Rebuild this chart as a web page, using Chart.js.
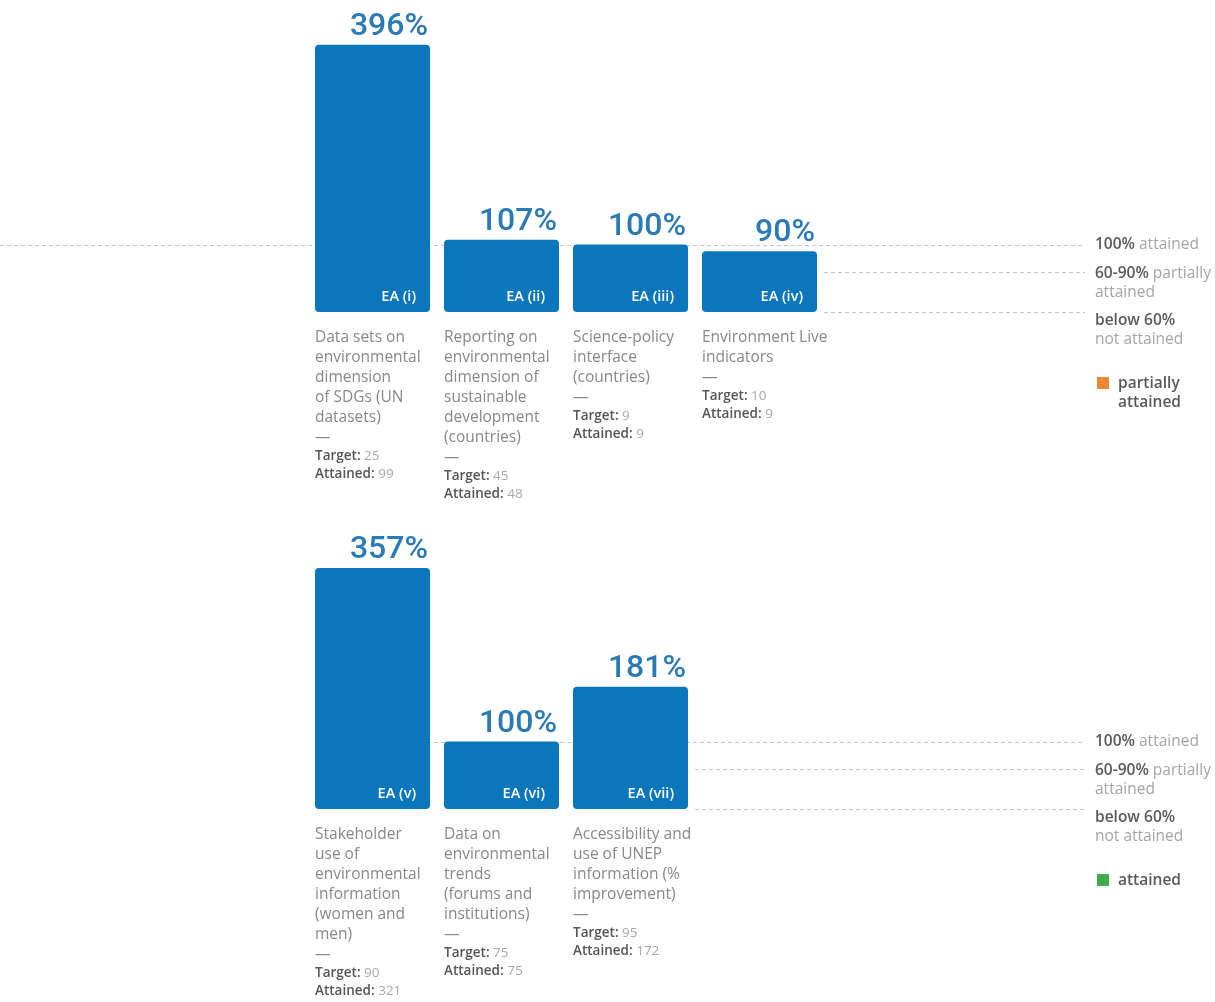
<!DOCTYPE html>
<html>
<head>
<meta charset="utf-8">
<script src="https://cdn.jsdelivr.net/npm/chart.js@4"></script>
<style>
  body { margin: 0; background: #fff; }
  .wrap { position: relative; width: 1215px; height: 1002px; }
  canvas { position: absolute; left: 0; }
  #topChart { top: 0; }
  #bottomChart { top: 510px; }
</style>
</head>
<body>
<div class="wrap">
  <canvas id="topChart" width="1215" height="510"></canvas>
  <canvas id="bottomChart" width="1215" height="492"></canvas>
</div>
<script>
// Верхня панель
const topCategories = ['EA (i)', 'EA (ii)', 'EA (iii)', 'EA (iv)'];
const topValues = [396, 107, 100, 90];
const topDescriptions = [
    ['Data sets on', 'environmental', 'dimension', 'of SDGs (UN', 'datasets)'],
    ['Reporting on', 'environmental', 'dimension of', 'sustainable', 'development', '(countries)'],
    ['Science-policy', 'interface', '(countries)'],
    ['Environment Live', 'indicators']
];
const topTargets = [25, 45, 9, 10];
const topAttained = [99, 48, 9, 9];

// Нижня панель
const bottomCategories = ['EA (v)', 'EA (vi)', 'EA (vii)'];
const bottomValues = [357, 100, 181];
const bottomDescriptions = [
    ['Stakeholder', 'use of', 'environmental', 'information', '(women and', 'men)'],
    ['Data on', 'environmental', 'trends', '(forums and', 'institutions)'],
    ['Accessibility and', 'use of UNEP', 'information (%', 'improvement)']
];
const bottomTargets = [90, 75, 95];
const bottomAttained = [321, 75, 172];

// Пороги для пунктирних ліній
const thresholds = [100, 60, 0];

const FONT = 'Roboto, "Noto Sans", sans-serif';
const TEXT_FONT = '"Open Sans", "Noto Sans", sans-serif';
const BAR_COLOR = '#0a77bd';

// Малює текст із жирною частиною та світлою частиною
function drawMixed(ctx, x, y, boldPart, lightPart) {
    ctx.font = '600 15.5px ' + TEXT_FONT;
    ctx.fillStyle = '#5a5a5a';
    ctx.fillText(boldPart, x, y);
    const w = ctx.measureText(boldPart).width;
    ctx.font = '15.5px ' + TEXT_FONT;
    ctx.fillStyle = '#a5a5a5';
    ctx.fillText(lightPart, x + w, y);
}

const panelPlugin = {
    id: 'panelDecor',
    beforeDatasetsDraw(chart, args, opts) {
        const ctx = chart.ctx;
        const y = chart.scales.y;
        const area = chart.chartArea;
        ctx.save();
        ctx.strokeStyle = '#c4c4c4';
        ctx.lineWidth = 1;
        ctx.setLineDash([4, 3]);
        thresholds.forEach(v => {
            const py = Math.round(y.getPixelForValue(v)) + 0.5;
            const start = v === 100 ? opts.lineStart100 : area.right;
            ctx.beginPath();
            ctx.moveTo(start, py);
            ctx.lineTo(1085, py);
            ctx.stroke();
        });
        ctx.restore();
    },
    afterDatasetsDraw(chart, args, opts) {
        const ctx = chart.ctx;
        const meta = chart.getDatasetMeta(0);
        const values = chart.data.datasets[0].data;
        const y = chart.scales.y;
        ctx.save();
        ctx.textBaseline = 'alphabetic';
        meta.data.forEach((bar, i) => {
            const left = bar.x - bar.width / 2;
            const right = bar.x + bar.width / 2;
            // Відсоток над стовпцем
            ctx.textAlign = 'right';
            ctx.font = '500 32px ' + FONT;
            ctx.fillStyle = '#2a7bb5';
            ctx.fillText(values[i] + '%', right - 2, bar.y - 10);
            // Підпис EA у стовпці
            ctx.font = '600 14.5px ' + TEXT_FONT;
            ctx.fillStyle = '#ffffff';
            ctx.fillText(chart.data.labels[i], right - 14, bar.base - 11);
            // Опис під стовпцем
            ctx.textAlign = 'left';
            ctx.textBaseline = 'middle';
            let ly = bar.base + 26;
            ctx.font = '15.5px ' + TEXT_FONT;
            ctx.fillStyle = '#888';
            opts.descriptions[i].forEach(line => {
                ctx.fillText(line, left, ly);
                ly += 20;
            });
            ctx.fillText('—', left, ly);
            ly += 18;
            ctx.font = '600 13.5px ' + TEXT_FONT;
            ctx.fillStyle = '#555';
            ctx.fillText('Target:', left, ly);
            let w = ctx.measureText('Target: ').width;
            ctx.font = '13.5px ' + TEXT_FONT;
            ctx.fillStyle = '#a8a8a8';
            ctx.fillText(String(opts.targets[i]), left + w, ly);
            ly += 18;
            ctx.font = '600 13.5px ' + TEXT_FONT;
            ctx.fillStyle = '#555';
            ctx.fillText('Attained:', left, ly);
            w = ctx.measureText('Attained: ').width;
            ctx.font = '13.5px ' + TEXT_FONT;
            ctx.fillStyle = '#a8a8a8';
            ctx.fillText(String(opts.attained[i]), left + w, ly);
            ctx.textBaseline = 'alphabetic';
        });

        // Легенда праворуч
        const lx = 1095;
        const y100 = y.getPixelForValue(100);
        const y60 = y.getPixelForValue(60);
        const y0 = y.getPixelForValue(0);
        ctx.textAlign = 'left';
        ctx.textBaseline = 'middle';
        drawMixed(ctx, lx, y100, '100%', ' attained');
        drawMixed(ctx, lx, y60 + 2, '60-90%', ' partially');
        drawMixed(ctx, lx, y60 + 21, '', 'attained');
        drawMixed(ctx, lx, y0 + 9, 'below 60%', '');
        drawMixed(ctx, lx, y0 + 28, '', 'not attained');
        ctx.fillStyle = opts.swatchColor;
        ctx.fillRect(lx + 2, y0 + 65, 12, 12);
        ctx.font = '600 15.5px ' + TEXT_FONT;
        ctx.fillStyle = '#5a5a5a';
        opts.swatchLabel.forEach((t, k) => {
            ctx.fillText(t, lx + 23, y0 + 72 + k * 19);
        });
        ctx.restore();
    }
};

function makeChart(id, categories, values, paddingTop, paddingBottom, paddingRight, decor) {
    return new Chart(document.getElementById(id), {
        type: 'bar',
        data: {
            labels: categories,
            datasets: [{
                data: values,
                backgroundColor: BAR_COLOR,
                borderRadius: 4,
                borderSkipped: false,
                barPercentage: 1,
                categoryPercentage: 115 / 129
            }]
        },
        options: {
            responsive: false,
            animation: false,
            layout: { padding: { left: 308, right: paddingRight, top: paddingTop, bottom: paddingBottom } },
            scales: {
                x: { display: false },
                y: { display: false, min: 0, max: 400 }
            },
            plugins: {
                legend: { display: false },
                tooltip: { enabled: false },
                panelDecor: decor
            }
        },
        plugins: [panelPlugin]
    });
}

makeChart('topChart', topCategories, topValues, 42, 198, 391, {
    lineStart100: 0,
    descriptions: topDescriptions,
    targets: topTargets,
    attained: topAttained,
    swatchColor: '#ef8636',
    swatchLabel: ['partially', 'attained']
});

makeChart('bottomChart', bottomCategories, bottomValues, 29, 193, 520, {
    lineStart100: 315,
    descriptions: bottomDescriptions,
    targets: bottomTargets,
    attained: bottomAttained,
    swatchColor: '#3fab4a',
    swatchLabel: ['attained']
});
</script>
</body>
</html>
